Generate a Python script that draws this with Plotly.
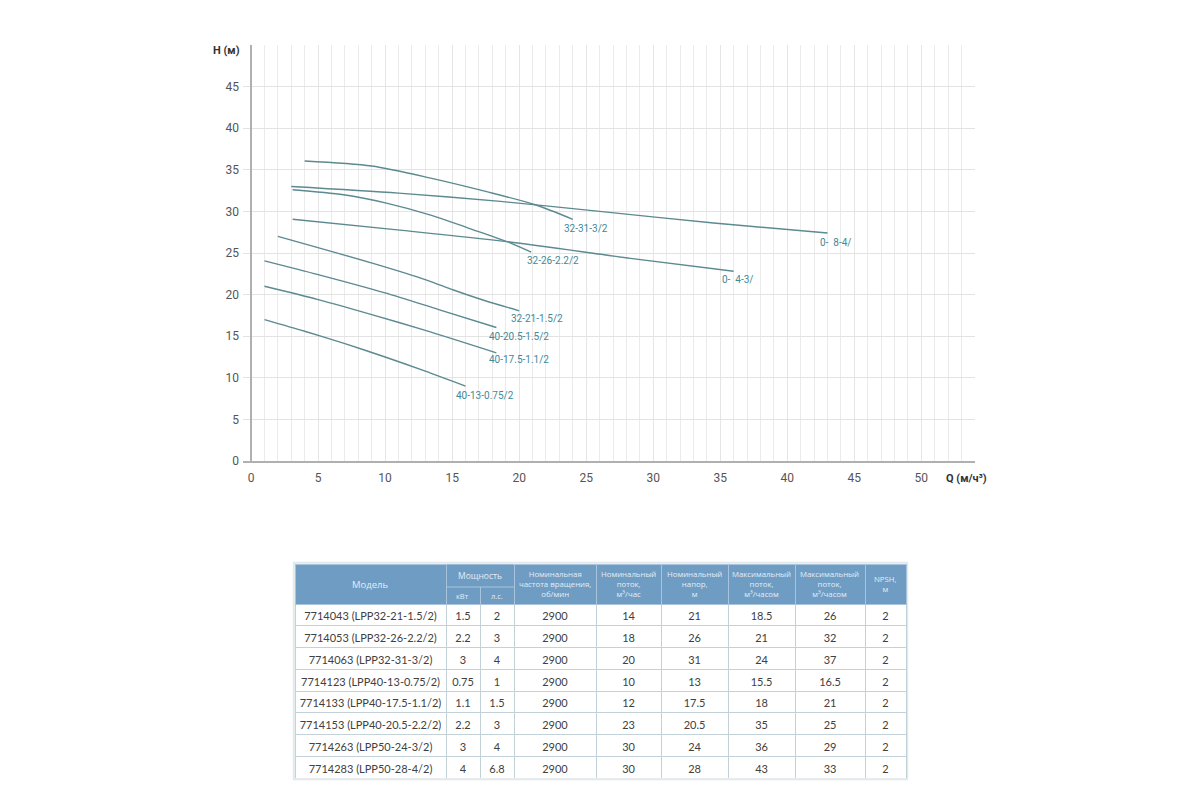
import plotly.graph_objects as go

# ---------------- DATA ----------------
curve_labels = ["32-31-3/2", "0-  8-4/", "32-26-2.2/2", "0-  4-3/",
                "32-21-1.5/2", "40-20.5-1.5/2", "40-17.5-1.1/2", "40-13-0.75/2"]
q_c1 = [4, 9, 13.4, 17.5, 21.2, 24]
h_c1 = [36.05, 35.45, 34.0, 32.4, 30.8, 29.05]
q_c2 = [3, 11, 18.6, 26, 34.5, 43]
h_c2 = [33.0, 32.2, 31.2, 30.0, 28.6, 27.4]
q_c3 = [3.1, 6.9, 10.1, 13.4, 16.2, 19.1, 20.9]
h_c3 = [32.6, 32.0, 31.0, 29.55, 28.0, 26.36, 25.1]
q_c4 = [3.1, 11.1, 19.1, 28.3, 36]
h_c4 = [29.05, 27.75, 26.36, 24.36, 22.8]
q_c5 = [2, 9.1, 13.1, 15.1, 17.3, 20]
h_c5 = [27.0, 23.75, 21.75, 20.55, 19.35, 18.05]
q_c6 = [1, 5, 10, 14, 18.3]
h_c6 = [24.05, 22.4, 20.2, 18.2, 16.05]
q_c7 = [1, 5, 9, 13, 18.3]
h_c7 = [21.0, 19.4, 17.6, 15.7, 13.0]
q_c8 = [1, 4, 7, 10, 13, 16]
h_c8 = [17.0, 15.6, 14.1, 12.5, 10.8, 9.0]

x_tickvals = [0, 5, 10, 15, 20, 25, 30, 35, 40, 45, 50]
y_tickvals = [0, 5, 10, 15, 20, 25, 30, 35, 40, 45]

tbl_model = ["7714043 (LPP32-21-1.5/2)", "7714053 (LPP32-26-2.2/2)", "7714063 (LPP32-31-3/2)",
             "7714123 (LPP40-13-0.75/2)", "7714133 (LPP40-17.5-1.1/2)", "7714153 (LPP40-20.5-2.2/2)",
             "7714263 (LPP50-24-3/2)", "7714283 (LPP50-28-4/2)"]
tbl_kw = ["1.5", "2.2", "3", "0.75", "1.1", "2.2", "3", "4"]
tbl_hp = ["2", "3", "4", "1", "1.5", "3", "4", "6.8"]
tbl_rpm = ["2900"] * 8
tbl_qnom = ["14", "18", "20", "10", "12", "23", "30", "30"]
tbl_hnom = ["21", "26", "31", "13", "17.5", "20.5", "24", "28"]
tbl_qmax = ["18.5", "21", "24", "15.5", "18", "35", "36", "43"]
tbl_hmax = ["26", "32", "37", "16.5", "21", "25", "29", "33"]
tbl_npsh = ["2"] * 8
tbl_headers = ["Модель", "кВт", "л.с.",
               "Номинальная<br>частота вращения,<br>об/мин",
               "Номинальный<br>поток,<br>м³/час",
               "Номинальный<br>напор,<br>м",
               "Максимальный<br>поток,<br>м³/часом",
               "Максимальный<br>поток,<br>м³/часом",
               "NPSH,<br>м"]
tbl_group_header = "Мощность"

# ---------------- STYLE ----------------
LINE_C = "#5b8a90"
LABEL_C = "#3f8a98"
HEAD_C = "#6f9cc3"
HEAD_LINE = "#a9c4dc"
HEAD_TXT = "#e4edf6"
header_sizes = [9.5, 7.5, 7.5, 7.8, 7.8, 7.8, 7.8, 7.8, 7.8]
# label pixel offsets relative to curve end point
label_offsets = [(13, -9), (8, -9), (22, -8), (4, -8), (18, -8), (23, -9), (23, -7), (19, -9)]

curves = [(q_c1, h_c1), (q_c2, h_c2), (q_c3, h_c3), (q_c4, h_c4),
          (q_c5, h_c5), (q_c6, h_c6), (q_c7, h_c7), (q_c8, h_c8)]

fig = go.Figure()
annotations = []
for (qq, hh), lab, (dx, dy) in zip(curves, curve_labels, label_offsets):
    fig.add_trace(go.Scatter(x=qq, y=hh, mode="lines",
                             line=dict(color=LINE_C, width=1.4, shape="spline", smoothing=0.8),
                             showlegend=False, hoverinfo="skip"))
    annotations.append(dict(x=qq[-1], y=hh[-1], xref="x", yref="y", text=lab, showarrow=False,
                            xanchor="center", yanchor="middle", xshift=dx, yshift=dy,
                            font=dict(family="Roboto", size=10, color=LABEL_C)))

# table
col_widths = [151, 34, 34, 82, 65, 67, 67, 70, 41]
header_h = 40
row_h = 21.75
tx0, tx1 = 295 / 1200, 906 / 1200
ty1 = 1 - 564 / 800
ty0 = ty1 - (header_h + row_h * len(tbl_model)) / 800
nb = lambda s: s.replace(" ", "\u00a0")
fig.add_trace(go.Table(
    domain=dict(x=[tx0, tx1], y=[ty0, ty1]),
    columnwidth=col_widths,
    header=dict(values=[""] * len(col_widths), fill_color=HEAD_C, line_color=HEAD_LINE, height=header_h),
    cells=dict(values=[[nb(m) for m in tbl_model], tbl_kw, tbl_hp, tbl_rpm, tbl_qnom, tbl_hnom,
                       tbl_qmax, tbl_hmax, tbl_npsh],
               fill_color="white", line_color="#c3d2d9", height=row_h, align="center",
               font=dict(family="Lato", size=11, color="#404040")),
))

# header texts (positions derived from column widths)
tw = tx1 - tx0
tot = sum(col_widths)
edges = [tx0]
for w in col_widths:
    edges.append(edges[-1] + tw * w / tot)
hh_paper = header_h / 800
band_h = 23 / 800
for i, t in enumerate(tbl_headers):
    cx = (edges[i] + edges[i + 1]) / 2
    if i in (1, 2):
        cy = ty1 - band_h - (hh_paper - band_h) / 2
    else:
        cy = ty1 - hh_paper / 2
    annotations.append(dict(x=cx, y=cy, xref="paper", yref="paper", text=t, showarrow=False,
                            align="center", xanchor="center", yanchor="middle",
                            font=dict(family="Open Sans", size=header_sizes[i], color=HEAD_TXT)))

gx0, gx1 = edges[1], edges[3]
shapes = [dict(type="rect", xref="paper", yref="paper", x0=gx0 + 0.0008, x1=gx1 - 0.0008,
               y0=ty1 - band_h, y1=ty1 - 0.001, fillcolor=HEAD_C, line=dict(width=0), layer="above"),
          dict(type="line", xref="paper", yref="paper", x0=gx0, x1=gx1, y0=ty1 - band_h, y1=ty1 - band_h,
               line=dict(color=HEAD_LINE, width=1), layer="above"),
          dict(type="rect", xref="paper", yref="paper", x0=tx0 - 0.001, x1=tx1 + 0.001,
               y0=ty0 - 0.0015, y1=ty1 + 0.0015, line=dict(color="#e2e8ec", width=2), layer="below")]
annotations.append(dict(x=(gx0 + gx1) / 2, y=ty1 - band_h / 2, xref="paper", yref="paper",
                        text=tbl_group_header, showarrow=False, xanchor="center", yanchor="middle",
                        font=dict(family="Open Sans", size=8.5, color=HEAD_TXT)))

# axis titles
annotations.append(dict(x=226 / 1200, y=1 - 50 / 800, xref="paper", yref="paper", text="<b>H (м)</b>",
                        showarrow=False, xanchor="center", yanchor="middle",
                        font=dict(family="Roboto", size=11, color="#333")))
annotations.append(dict(x=966 / 1200, y=1 - 478 / 800, xref="paper", yref="paper", text="<b>Q (м/ч³)</b>",
                        showarrow=False, xanchor="center", yanchor="middle",
                        font=dict(family="Roboto", size=11, color="#333")))

fig.update_layout(
    width=1200, height=800, margin=dict(l=0, r=0, t=0, b=0),
    paper_bgcolor="white", plot_bgcolor="white",
    xaxis=dict(domain=[243 / 1200, 975 / 1200], range=[-0.6, 54], tickmode="array", tickvals=x_tickvals,
               showgrid=True, gridcolor="#e5e5e5", gridwidth=1,
               minor=dict(dtick=1, tick0=0, showgrid=True, gridcolor="#ebebeb", gridwidth=1),
               zeroline=True, zerolinecolor="#b0b0b0", zerolinewidth=2,
               showline=True, linecolor="#b0b0b0", linewidth=2, ticks="", automargin=False,
               ticklabelstandoff=5,
               tickfont=dict(family="Roboto", size=12, color="#555")),
    yaxis=dict(domain=[1 - 461 / 800, 1 - 45 / 800], range=[0, 50], tickmode="array", tickvals=y_tickvals,
               showgrid=True, gridcolor="#e3e3e3", gridwidth=1, zeroline=False, showline=False, ticks="",
               ticklabelstandoff=3, automargin=False,
               tickfont=dict(family="Roboto", size=12, color="#555")),
    annotations=annotations, shapes=shapes,
)

fig.write_html("out.html", config={"displayModeBar": False},
               post_script="document.body.style.margin='0';")
